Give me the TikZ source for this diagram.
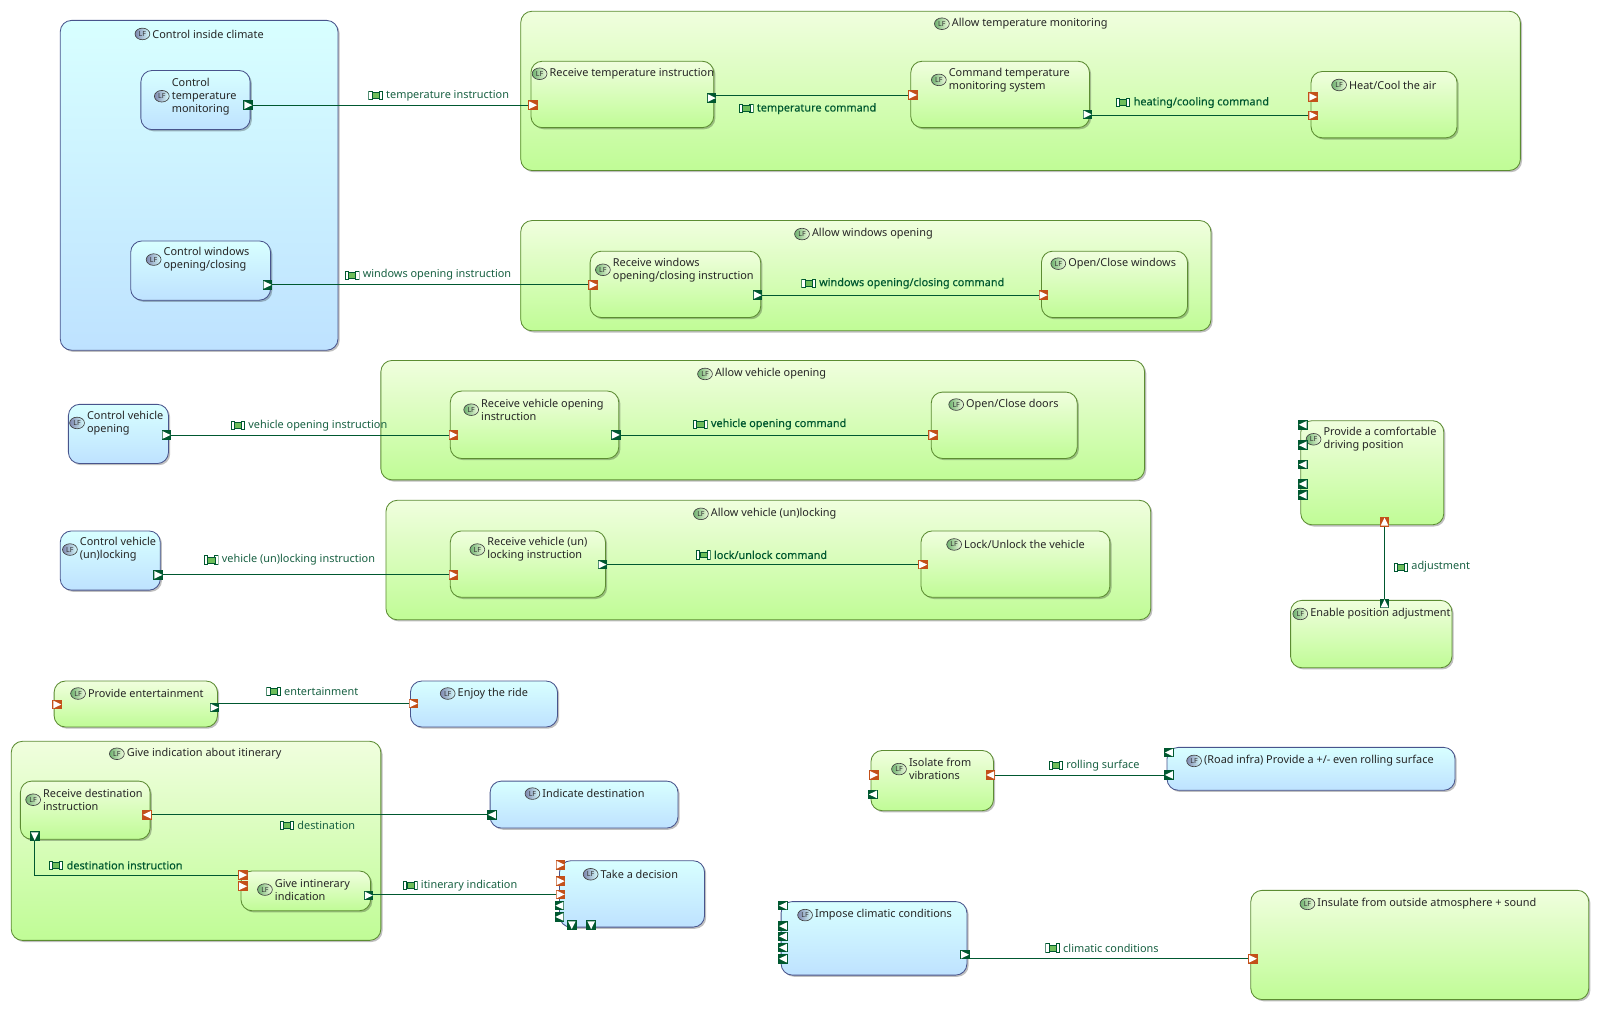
\documentclass[tikz,border=0pt]{standalone}
\usepackage{fontspec}
\setmainfont{Noto Sans}
\newfontface\flowbold{Noto Sans}[FakeBold=0.25]
\usepackage{xcolor}
\definecolor{cdblue}{RGB}{72,84,140}
\definecolor{cdbluetop}{RGB}{216,255,255}
\definecolor{cdbluebot}{RGB}{190,226,255}
\definecolor{cdgreen}{RGB}{92,140,50}
\definecolor{cdgreentop}{RGB}{240,254,222}
\definecolor{cdgreenbot}{RGB}{192,252,150}
\definecolor{cddark}{RGB}{0,88,48}
\definecolor{cdorange}{RGB}{195,80,25}
\definecolor{cdflow}{RGB}{24,96,66}
\definecolor{cdiconmid}{RGB}{110,190,90}
\usetikzlibrary{positioning,fit,shapes.geometric,shadows}
\def\ppb{path picture bounding box}
\tikzset{
  funcbox/.style={rounded corners=8pt, inner sep=0pt, line width=0.6pt, drop shadow={shadow xshift=1.2pt, shadow yshift=-1.2pt, fill=black, opacity=0.25}},
  bluebox/.style={funcbox, draw=cdblue, top color=cdbluetop, bottom color=cdbluebot},
  greenbox/.style={funcbox, draw=cdgreen, top color=cdgreentop, bottom color=cdgreenbot},
  boxtitle/.style={anchor=west, align=left, inner sep=0pt, yshift=-0.9pt, text=black!85, font=\fontsize{7.75}{9.2}\selectfont},
  lfmark/.style={ellipse, draw=black!75, line width=0.45pt, minimum width=0.37cm, minimum height=0.29cm, inner sep=0pt, text=black!80, font=\fontsize{5}{5}\selectfont, left=0.05cm of #1},
  lfgreen/.style={lfmark=#1, left color=black!20!green!40!gray!80, right color=cdgreentop},
  lfblue/.style={lfmark=#1, left color=cdblue!70, right color=cdbluetop},
  portbox/.style={rectangle, minimum size=0.24cm, inner sep=0pt, line width=0pt},
  outport/.style={portbox, fill=cddark},
  inport/.style={portbox, fill=cdorange},
  tri r/.style={path picture={\fill[white] ([xshift=0.7pt,yshift=-0.7pt]\ppb.north west) -- ([xshift=-0.5pt]\ppb.east) -- ([xshift=0.7pt,yshift=0.7pt]\ppb.south west) -- cycle;}},
  tri l/.style={path picture={\fill[white] ([xshift=-0.7pt,yshift=-0.7pt]\ppb.north east) -- ([xshift=0.5pt]\ppb.west) -- ([xshift=-0.7pt,yshift=0.7pt]\ppb.south east) -- cycle;}},
  tri u/.style={path picture={\fill[white] ([xshift=0.7pt,yshift=0.7pt]\ppb.south west) -- ([yshift=-0.5pt]\ppb.north) -- ([xshift=-0.7pt,yshift=0.7pt]\ppb.south east) -- cycle;}},
  tri d/.style={path picture={\fill[white] ([xshift=0.7pt,yshift=-0.7pt]\ppb.north west) -- ([yshift=0.5pt]\ppb.south) -- ([xshift=-0.7pt,yshift=-0.7pt]\ppb.north east) -- cycle;}},
  exchange/.style={draw=cddark, line width=0.6pt},
  flowlabel/.style={anchor=west, inner sep=0pt, yshift=-0.3pt, text=cdflow, font=\fontsize{7.75}{9}\selectfont},
  flowinner/.style={flowlabel, text=cddark, font=\fontsize{7.75}{9}\flowbold},
  xicon/.style={rectangle, minimum width=0.36cm, minimum height=0.23cm, inner sep=0pt, left=0.07cm of #1, path picture={
    \draw[cddark, line width=0.55pt, fill=white] ([xshift=0.3pt,yshift=-0.3pt]\ppb.north west) rectangle ([xshift=2.6pt,yshift=0.3pt]\ppb.south west);
    \draw[cddark, line width=0.55pt, fill=white] ([xshift=-0.3pt,yshift=-0.3pt]\ppb.north east) rectangle ([xshift=-2.6pt,yshift=0.3pt]\ppb.south east);
    \draw[cddark, line width=0.45pt, fill=cdiconmid] ([xshift=2.6pt,yshift=-1.2pt]\ppb.north west) rectangle ([xshift=-2.6pt,yshift=1.2pt]\ppb.south east);}},
}
\begin{document}
\begin{tikzpicture}[x=0.0255cm, y=-0.0255cm]
  \useasboundingbox (0,0) rectangle (1568,992);

  % Control inside climate
  \node[bluebox, fit={(59,20) (331,343)}] (cic) {};
  \node[boxtitle] (cicl) at (149,32) {Control inside climate};
  \node[lfblue=cicl] (cici) {LF};
  \node[bluebox, fit={(138,69) (245,127)}] (ctm) {};
  \node[boxtitle] (ctml) at (168,93) {Control\\temperature\\monitoring};
  \node[lfblue=ctml] (ctmi) {LF};
  \node[bluebox, fit={(128,236) (265,294)}] (cwo) {};
  \node[boxtitle] (cwol) at (160,253) {Control windows\\opening/closing};
  \node[lfblue=cwol] (cwoi) {LF};

  % Allow temperature monitoring
  \node[greenbox, fit={(510,11) (1489,167)}] (atm) {};
  \node[boxtitle] (atml) at (932,22) {Allow temperature monitoring};
  \node[lfgreen=atml] (atmi) {LF};
  \node[greenbox, fit={(520,60) (699,125)}] (rti) {};
  \node[boxtitle] (rtil) at (538,71) {Receive temperature instruction};
  \node[lfgreen=rtil] (rtii) {LF};
  \node[greenbox, fit={(892,60) (1067,125)}] (cmd) {};
  \node[boxtitle] (cmdl) at (929,77) {Command temperature\\monitoring system};
  \node[lfgreen=cmdl] (cmdi) {LF};
  \node[greenbox, fit={(1284,70) (1427,135)}] (hca) {};
  \node[boxtitle] (hcal) at (1321,82) {Heat/Cool the air};
  \node[lfgreen=hcal] (hcai) {LF};

  % Allow windows opening
  \node[greenbox, fit={(510,216) (1186,324)}] (awo) {};
  \node[boxtitle] (awol) at (795,228) {Allow windows opening};
  \node[lfgreen=awol] (awoi) {LF};
  \node[greenbox, fit={(578,246) (745,311)}] (rwo) {};
  \node[boxtitle] (rwol) at (600,263) {Receive windows\\opening/closing instruction};
  \node[lfgreen=rwol] (rwoi) {LF};
  \node[greenbox, fit={(1020,246) (1163,311)}] (ocw) {};
  \node[boxtitle] (ocwl) at (1046,257) {Open/Close windows};
  \node[lfgreen=ocwl] (ocwi) {LF};

  % Allow vehicle opening
  \node[greenbox, fit={(373,353) (1121,470)}] (avo) {};
  \node[boxtitle] (avol) at (700,365) {Allow vehicle opening};
  \node[lfgreen=avol] (avoi) {LF};
  \node[greenbox, fit={(441,383) (606,449)}] (rvo) {};
  \node[boxtitle] (rvol) at (471,400) {Receive vehicle opening\\instruction};
  \node[lfgreen=rvol] (rvoi) {LF};
  \node[greenbox, fit={(912,384) (1055,449)}] (ocd) {};
  \node[boxtitle] (ocdl) at (946,395) {Open/Close doors};
  \node[lfgreen=ocdl] (ocdi) {LF};
  \node[bluebox, fit={(67,396) (165,454)}] (cvo) {};
  \node[boxtitle] (cvol) at (85,413) {Control vehicle\\opening};
  \node[lfblue=cvol] (cvoi) {LF};

  % Allow vehicle (un)locking
  \node[greenbox, fit={(378,490) (1127,607)}] (avu) {};
  \node[boxtitle] (avul) at (696,502) {Allow vehicle (un)locking};
  \node[lfgreen=avul] (avui) {LF};
  \node[greenbox, fit={(441,520) (593,585)}] (rvu) {};
  \node[boxtitle] (rvul) at (477,537) {Receive vehicle (un)\\locking instruction};
  \node[lfgreen=rvul] (rvui) {LF};
  \node[greenbox, fit={(902,520) (1087,585)}] (luv) {};
  \node[boxtitle] (luvl) at (944,532) {Lock/Unlock the vehicle};
  \node[lfgreen=luvl] (luvi) {LF};
  \node[bluebox, fit={(59,520) (157,578)}] (cvu) {};
  \node[boxtitle] (cvul) at (78,537) {Control vehicle\\(un)locking};
  \node[lfblue=cvul] (cvui) {LF};

  % Driving position
  \node[greenbox, fit={(1274,412) (1414,514)}] (pcd) {};
  \node[boxtitle] (pcdl) at (1296,429) {Provide a comfortable\\driving position};
  \node[lfgreen=pcdl] (pcdi) {LF};
  \node[greenbox, fit={(1264,588) (1422,654)}] (epa) {};
  \node[boxtitle] (epal) at (1283,600) {Enable position adjustment};
  \node[lfgreen=epal] (epai) {LF};

  % Entertainment
  \node[greenbox, fit={(53,667) (213,712)}] (pen) {};
  \node[boxtitle] (penl) at (86,678) {Provide entertainment};
  \node[lfgreen=penl] (peni) {LF};
  \node[bluebox, fit={(402,667) (546,712)}] (ejr) {};
  \node[boxtitle] (ejrl) at (448,678) {Enjoy the ride};
  \node[lfblue=ejrl] (ejri) {LF};

  % Itinerary
  \node[greenbox, fit={(11,726) (373,921)}] (gio) {};
  \node[boxtitle] (giol) at (124,737) {Give indication about itinerary};
  \node[lfgreen=giol] (gioi) {LF};
  \node[greenbox, fit={(20,765) (147,822)}] (rde) {};
  \node[boxtitle] (rdel) at (42,782) {Receive destination\\instruction};
  \node[lfgreen=rdel] (rdei) {LF};
  \node[greenbox, fit={(236,853) (363,892)}] (gin) {};
  \node[boxtitle] (ginl) at (269,870) {Give intinerary\\indication};
  \node[lfgreen=ginl] (gini) {LF};
  \node[bluebox, fit={(480,765) (664,811)}] (ind) {};
  \node[boxtitle] (indl) at (531,776) {Indicate destination};
  \node[lfblue=indl] (indi) {LF};
  \node[bluebox, fit={(548,843) (690,908)}] (tad) {};
  \node[boxtitle] (tadl) at (588,855) {Take a decision};
  \node[lfblue=tadl] (tadi) {LF};

  % Vibrations and climate
  \node[greenbox, fit={(853,735) (973,794)}] (iso) {};
  \node[boxtitle] (isol) at (890,752) {Isolate from\\vibrations};
  \node[lfgreen=isol] (isoi) {LF};
  \node[bluebox, fit={(1143,732) (1425,774)}] (roa) {};
  \node[boxtitle] (roal) at (1179,744) {(Road infra) Provide a +/- even rolling surface};
  \node[lfblue=roal] (roai) {LF};
  \node[bluebox, fit={(765,883) (947,955)}] (imp) {};
  \node[boxtitle] (impl) at (798,895) {Impose climatic conditions};
  \node[lfblue=impl] (impi) {LF};
  \node[greenbox, fit={(1225,872) (1556,979)}] (ins) {};
  \node[boxtitle] (insl) at (1290,884) {Insulate from outside atmosphere + sound};
  \node[lfgreen=insl] (insi) {LF};

  % Ports
  \node[outport, tri r] (ctmout) at (243,103) {};
  \node[inport, tri r] (rtiin) at (522,103) {};
  \node[outport, tri r] (rtiout) at (697,96) {};
  \node[inport, tri r] (cmdin) at (894,93) {};
  \node[outport, tri r] (cmdout) at (1065,112) {};
  \node[inport, tri r] (hcain) at (1286,95) {};
  \node[inport, tri r] (hcainb) at (1286,113) {};
  \node[outport, tri r] (cwoout) at (262,279) {};
  \node[inport, tri r] (rwoin) at (581,279) {};
  \node[outport, tri r] (rwoout) at (742,289) {};
  \node[inport, tri r] (ocwin) at (1022,289) {};
  \node[outport, tri r] (cvoout) at (163,426) {};
  \node[inport, tri r] (rvoin) at (444,426) {};
  \node[outport, tri r] (rvoout) at (603,426) {};
  \node[inport, tri r] (ocdin) at (914,426) {};
  \node[outport, tri r] (cvuout) at (155,563) {};
  \node[inport, tri r] (rvuin) at (444,563) {};
  \node[outport, tri r] (rvuout) at (590,553) {};
  \node[inport, tri r] (luvin) at (904,553) {};
  \node[outport, tri l] (pcda) at (1276,416) {};
  \node[outport, tri l] (pcdb) at (1276,436) {};
  \node[outport, tri l] (pcdc) at (1276,455) {};
  \node[outport, tri l] (pcdd) at (1276,474) {};
  \node[outport, tri l] (pcde) at (1276,485) {};
  \node[inport, tri u] (pcdin) at (1356,511) {};
  \node[outport, tri u] (epaout) at (1356,591) {};
  \node[inport, tri r] (penin) at (56,690) {};
  \node[outport, tri r] (penout) at (210,693) {};
  \node[inport, tri r] (ejrin) at (405,689) {};
  \node[inport, tri l] (rdeout) at (144,798) {};
  \node[outport, tri d] (rdedown) at (34,819) {};
  \node[inport, tri r] (ginin) at (238,857) {};
  \node[inport, tri r] (ginb) at (238,868) {};
  \node[outport, tri r] (ginout) at (361,877) {};
  \node[outport, tri l] (indin) at (482,798) {};
  \node[inport, tri r] (tada) at (549,847) {};
  \node[inport, tri r] (tadb) at (549,863) {};
  \node[inport, tri r] (tadc) at (549,876) {};
  \node[outport, tri l] (tadd) at (548,887) {};
  \node[outport, tri l] (tade) at (548,898) {};
  \node[outport, tri d] (tadf) at (560,906) {};
  \node[outport, tri d] (tadg) at (579,906) {};
  \node[inport, tri r] (isoa) at (856,759) {};
  \node[outport, tri l] (isob) at (855,778) {};
  \node[inport, tri l] (isoin) at (970,759) {};
  \node[outport, tri l] (roaa) at (1145,737) {};
  \node[outport, tri l] (roaout) at (1145,759) {};
  \node[outport, tri l] (impa) at (767,887) {};
  \node[outport, tri l] (impb) at (767,907) {};
  \node[outport, tri l] (impc) at (767,917) {};
  \node[outport, tri l] (impd) at (767,928) {};
  \node[outport, tri l] (impe) at (767,939) {};
  \node[outport, tri r] (impout) at (945,935) {};
  \node[inport, tri r] (insin) at (1227,939) {};

  % Connectors
  \draw[exchange] (ctmout.east) -- (rtiin.west);
  \draw[exchange] (rtiout.east |- cmdin.west) -- (cmdin.west);
  \draw[exchange] (cmdout.east |- hcainb.west) -- (hcainb.west);
  \draw[exchange] (cwoout.east) -- (rwoin.west);
  \draw[exchange] (rwoout.east) -- (ocwin.west);
  \draw[exchange] (cvoout.east) -- (rvoin.west);
  \draw[exchange] (rvoout.east) -- (ocdin.west);
  \draw[exchange] (cvuout.east) -- (rvuin.west);
  \draw[exchange] (rvuout.east) -- (luvin.west);
  \draw[exchange] (epaout.north) -- (pcdin.south);
  \draw[exchange] (penout.east |- ejrin.west) -- (ejrin.west);
  \draw[exchange] (rdeout.east) -- (indin.west);
  \draw[exchange] (rdedown.south) |- (ginin.west);
  \draw[exchange] (ginout.east |- tadc.west) -- (tadc.west);
  \draw[exchange] (isoin.east) -- (roaout.west);
  \draw[exchange] (impout.east |- insin.west) -- (insin.west);

  % Flow labels
  \node[flowlabel] (ftins) at (378,93) {temperature instruction};
  \node[xicon=ftins] (iftins) {};
  \node[flowinner] (ftcom) at (741,106) {temperature command};
  \node[xicon=ftcom] (iftcom) {};
  \node[flowinner] (fhcc) at (1110,100) {heating/cooling command};
  \node[xicon=fhcc] (ifhcc) {};
  \node[flowlabel] (fwins) at (355,269) {windows opening instruction};
  \node[xicon=fwins] (ifwins) {};
  \node[flowinner] (fwcom) at (802,277) {windows opening/closing command};
  \node[xicon=fwcom] (ifwcom) {};
  \node[flowlabel] (fvins) at (243,416) {vehicle opening instruction};
  \node[xicon=fvins] (ifvins) {};
  \node[flowinner] (fvcom) at (696,415) {vehicle opening command};
  \node[xicon=fvcom] (ifvcom) {};
  \node[flowlabel] (fuins) at (217,548) {vehicle (un)locking instruction};
  \node[xicon=fuins] (ifuins) {};
  \node[flowinner] (fucom) at (699,543) {lock/unlock command};
  \node[xicon=fucom] (ifucom) {};
  \node[flowlabel] (fadj) at (1382,555) {adjustment};
  \node[xicon=fadj] (ifadj) {};
  \node[flowlabel] (fent) at (278,677) {entertainment};
  \node[xicon=fent] (ifent) {};
  \node[flowlabel] (fdes) at (291,808) {destination};
  \node[xicon=fdes] (ifdes) {};
  \node[flowinner] (fdin) at (65,847) {destination instruction};
  \node[xicon=fdin] (ifdin) {};
  \node[flowlabel] (fiti) at (412,867) {itinerary indication};
  \node[xicon=fiti] (ifiti) {};
  \node[flowlabel] (frol) at (1044,749) {rolling surface};
  \node[xicon=frol] (ifrol) {};
  \node[flowlabel] (fcli) at (1041,928) {climatic conditions};
  \node[xicon=fcli] (ifcli) {};
\end{tikzpicture}
\end{document}
